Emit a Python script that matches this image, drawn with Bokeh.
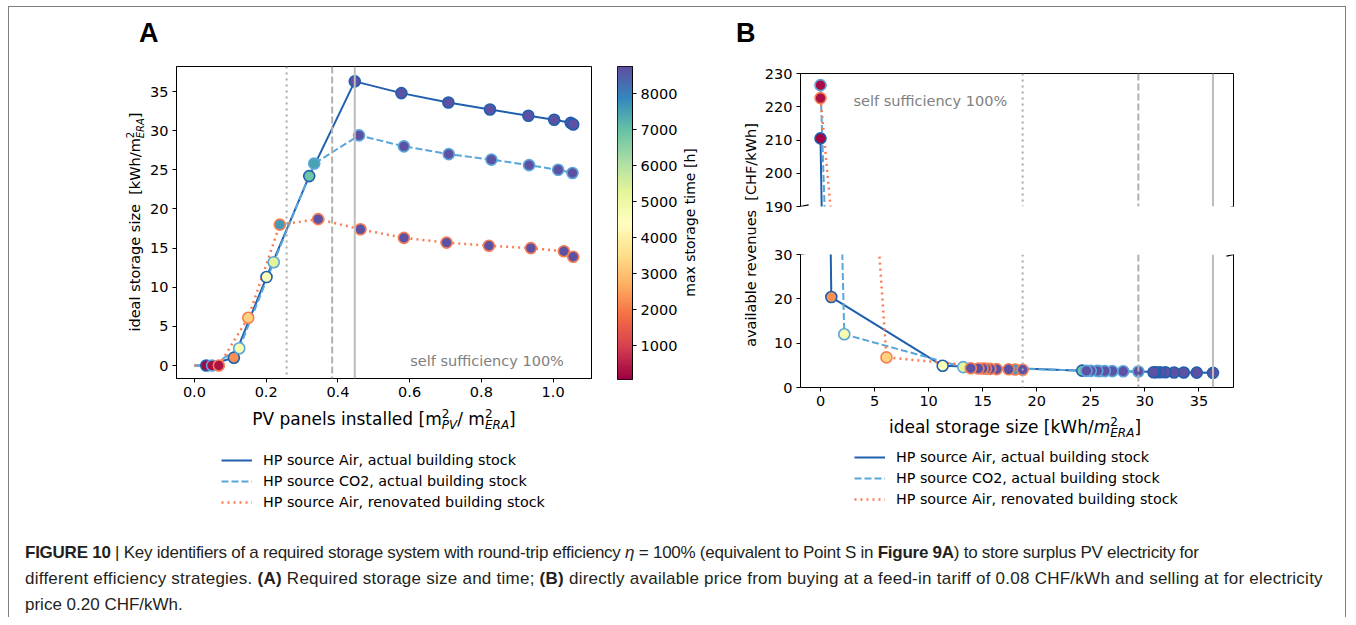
import numpy as np
from bokeh.plotting import figure
from bokeh.models import (Range1d, LinearAxis, FixedTicker, Span, Label, Legend, LegendItem,
                          LinearColorMapper, Div, Arrow, PrintfTickFormatter, ColumnDataSource)
from bokeh.layouts import row, column
from bokeh.transform import transform
from bokeh.embed import file_html
from bokeh.resources import INLINE
from bokeh.palettes import Spectral11

nan = float("nan")

# ---------------- data ----------------
series_names = ["HP source Air, actual building stock",
                "HP source CO2, actual building stock",
                "HP source Air, renovated building stock"]

# PV panels installed [m2_PV / m2_ERA]  (first entry: origin of the line, no marker)
pv_air_actual = [0.0, 0.033, 0.110, 0.201, 0.320, 0.447, 0.577, 0.708, 0.824, 0.931, 1.003, 1.049, 1.056]
pv_co2_actual = [0.0, 0.049, 0.125, 0.221, 0.334, 0.459, 0.584, 0.709, 0.828, 0.933, 1.014, 1.054]
pv_air_renov = [0.0, 0.068, 0.150, 0.238, 0.345, 0.463, 0.584, 0.703, 0.821, 0.938, 1.030, 1.056]

# ideal storage size [kWh/m2_ERA]
size_air_actual = [0.0, 0.0, 1.0, 11.3, 24.2, 36.3, 34.8, 33.6, 32.7, 31.9, 31.4, 31.0, 30.8]
size_co2_actual = [0.0, 0.0, 2.2, 13.2, 25.8, 29.4, 28.0, 27.0, 26.3, 25.6, 25.0, 24.6]
size_air_renov = [0.0, 0.0, 6.1, 18.0, 18.7, 17.4, 16.3, 15.7, 15.3, 15.0, 14.6, 13.9]

# max storage time [h]
time_air_actual = [nan, 150, 2300, 4600, 6900, 8700, 8700, 8700, 8700, 8700, 8700, 8700, 8700]
time_co2_actual = [nan, 250, 4700, 5300, 7500, 8700, 8700, 8700, 8700, 8700, 8700, 8700]
time_air_renov = [nan, 300, 3300, 7600, 8700, 8700, 8700, 8700, 8700, 8700, 8700, 8700]

# available revenues [CHF/kWh]
rev_air_actual = [nan, 210.5, 20.4, 4.9, 3.8, 3.3, 3.35, 3.4, 3.4, 3.45, 3.45, 3.45, 3.45]
rev_co2_actual = [nan, 226.5, 12.0, 4.6, 3.7, 3.6, 3.65, 3.7, 3.7, 3.75, 3.75, 3.75]
rev_air_renov = [nan, 222.6, 6.8, 4.05, 4.0, 4.1, 4.15, 4.2, 4.25, 4.3, 4.3, 4.35]

# self sufficiency 100 % markers (renovated air, CO2, air)
ss_pv = [0.257, 0.384, 0.447]
ss_size = [18.7, 29.4, 36.3]

time_min, time_max = 60, 8760

pv_ticks = [0.0, 0.2, 0.4, 0.6, 0.8, 1.0]
sizeA_ticks = [0, 5, 10, 15, 20, 25, 30, 35]
time_ticks = [1000, 2000, 3000, 4000, 5000, 6000, 7000, 8000]
rev_top_ticks = [190, 200, 210, 220, 230]
rev_bot_ticks = [0, 10, 20, 30]
sizeB_ticks = [0, 5, 10, 15, 20, 25, 30, 35]

# ---------------- styling ----------------
FONT = "DejaVu Sans"
TICK_FS = "14.5px"
C_AIR, C_CO2, C_REN = "#1f5fae", "#5aa5d9", "#f77e54"
line_styles = [(C_AIR, "solid", 2.0), (C_CO2, "7 3", 2.0), (C_REN, "2 4", 2.5)]
span_styles = [("2 4", "#a8a8a8"), ("7 3", "#b0b0b0"), ("solid", "#bdbdbd")]


def interp_palette(colors, n):
    rgb = np.array([[int(c[i:i + 2], 16) for i in (1, 3, 5)] for c in colors], float)
    pos = np.linspace(0, 1, len(colors))
    t = np.linspace(0, 1, n)
    ch = [np.interp(t, pos, rgb[:, k]) for k in range(3)]
    return ["#%02x%02x%02x" % (int(round(ch[0][i])), int(round(ch[1][i])), int(round(ch[2][i]))) for i in range(n)]


palette = interp_palette(list(reversed(Spectral11)), 256)
mapper = LinearColorMapper(palette=palette, low=time_min, high=time_max)


def style_axis(ax):
    ax.major_label_text_font = FONT
    ax.major_label_text_font_size = TICK_FS
    ax.major_label_text_color = "black"
    ax.major_tick_out = 4
    ax.major_tick_in = 0
    ax.minor_tick_out = 0
    ax.minor_tick_in = 0
    ax.axis_line_color = "black"
    ax.major_tick_line_color = "black"
    ax.major_label_standoff = 4


def base_fig(**kw):
    p = figure(toolbar_location=None, output_backend="svg", margin=0, **kw)
    p.grid.visible = False
    p.border_fill_color = "white"
    p.background_fill_color = "white"
    return p


def empty_axis():
    return LinearAxis(ticker=FixedTicker(ticks=[]), major_tick_out=0, minor_tick_out=0,
                      major_label_standoff=0, axis_line_color="black")


def box(width, height):
    return Div(text="", width=width, height=height, margin=0)


# ---------------- panel A ----------------
pA = base_fig(width=455, height=350, x_range=Range1d(-0.05, 1.107), y_range=Range1d(-1.66, 38.2),
              min_border_left=30, min_border_right=10, min_border_top=8, min_border_bottom=30)
pA.outline_line_color = "black"
for ax in pA.axis:
    style_axis(ax)
pA.xaxis.ticker = FixedTicker(ticks=pv_ticks)
pA.xaxis.formatter = PrintfTickFormatter(format="%.1f")
pA.yaxis.ticker = FixedTicker(ticks=sizeA_ticks)
for v, (dash, col) in zip(ss_pv, span_styles):
    pA.add_layout(Span(location=v, dimension="height", line_color=col, line_width=2, line_dash=dash))

seriesA = [(pv_air_actual, size_air_actual, time_air_actual),
           (pv_co2_actual, size_co2_actual, time_co2_actual),
           (pv_air_renov, size_air_renov, time_air_renov)]
for (x, y, t), (col, dash, lw) in zip(seriesA, line_styles):
    pA.line(x, y, line_color=col, line_width=lw, line_dash=dash)
for (x, y, t), (col, dash, lw) in zip(seriesA, line_styles):
    src = ColumnDataSource(dict(x=x[1:], y=y[1:], t=t[1:]))
    pA.scatter("x", "y", source=src, size=11, fill_color=transform("t", mapper),
               line_color=col, line_width=1.6)
pA.add_layout(Label(x=1.03, y=0.6, text="self sufficiency 100%", text_align="right",
                    text_baseline="middle", text_color="#808080", text_font=FONT, text_font_size="14.5px"))

# ---------------- colour bar ----------------
pC = base_fig(width=79, height=350, x_range=Range1d(0, 1), y_range=Range1d(time_min, time_max),
              x_axis_location=None, y_axis_location="right",
              min_border_left=16, min_border_right=47, min_border_top=8, min_border_bottom=29)
grad = np.linspace(time_min, time_max, 400).reshape(-1, 1)
pC.image(image=[grad], x=0, y=time_min, dw=1, dh=time_max - time_min, color_mapper=mapper)
pC.outline_line_color = "black"
for ax in pC.yaxis:
    style_axis(ax)
pC.yaxis.ticker = FixedTicker(ticks=time_ticks)

# ---------------- panel B ----------------
xB = Range1d(-1.85, 38.2)
seriesB = [(size_air_actual, rev_air_actual, time_air_actual),
           (size_co2_actual, rev_co2_actual, time_co2_actual),
           (size_air_renov, rev_air_renov, time_air_renov)]


def fill_B(p, brk_y, dy):
    for v, (dash, col) in zip(ss_size, span_styles):
        p.add_layout(Span(location=v, dimension="height", line_color=col, line_width=2, line_dash=dash))
    for (x, y, t), (col, dash, lw) in zip(seriesB, line_styles):
        p.line(x[1:], y[1:], line_color=col, line_width=lw, line_dash=dash)
    for (x, y, t), (col, dash, lw) in zip(seriesB, line_styles):
        src = ColumnDataSource(dict(x=x[1:], y=y[1:], t=t[1:]))
        p.scatter("x", "y", source=src, size=11, fill_color=transform("t", mapper),
                  line_color=col, line_width=1.6)
    for xe in (xB.start, xB.end):
        p.add_layout(Arrow(end=None, x_start=xe - 0.65, y_start=brk_y - dy, x_end=xe + 0.75, y_end=brk_y + dy,
                           line_color="black", line_width=1.2))


pBt = base_fig(width=483, height=172, x_range=xB, y_range=Range1d(190, 230), x_axis_location=None,
               min_border_left=40, min_border_right=10, min_border_top=15, min_border_bottom=24)
pBt.outline_line_color = None
for ax in pBt.axis:
    style_axis(ax)
pBt.yaxis.ticker = FixedTicker(ticks=rev_top_ticks)
pBt.add_layout(empty_axis(), "above")
pBt.add_layout(empty_axis(), "right")
for t in sizeB_ticks:   # top tick marks (no labels)
    pBt.add_layout(Arrow(end=None, x_start=t, y_start=230, x_end=t, y_end=230 + 1.2,
                         line_color="black", line_width=1))
fill_B(pBt, 190, 0.5)
pBt.add_layout(Label(x=3.05, y=221.6, text="self sufficiency 100%", text_align="left",
                     text_baseline="middle", text_color="#808080", text_font=FONT, text_font_size="14.5px"))

pBb = base_fig(width=483, height=187, x_range=xB, y_range=Range1d(0, 30),
               min_border_left=40, min_border_right=10, min_border_top=24, min_border_bottom=30)
pBb.outline_line_color = None
for ax in pBb.axis:
    style_axis(ax)
pBb.xaxis.ticker = FixedTicker(ticks=sizeB_ticks)
pBb.yaxis.ticker = FixedTicker(ticks=rev_bot_ticks)
pBb.add_layout(empty_axis(), "right")
fill_B(pBb, 30, 0.38)


# ---------------- legends ----------------
def legend_fig(width, height, left, top):
    p = figure(width=width, height=height, x_axis_location=None, y_axis_location=None,
               toolbar_location=None, output_backend="svg", margin=0,
               min_border_left=left, min_border_top=top, min_border_right=0, min_border_bottom=0)
    p.grid.visible = False
    p.outline_line_color = None
    p.border_fill_color = None
    p.background_fill_color = None
    items = []
    for name, (col, dash, lw) in zip(series_names, line_styles):
        r = p.line([0], [0], line_color=col, line_width=lw, line_dash=dash)
        items.append(LegendItem(label=name, renderers=[r]))
    leg = Legend(items=items, location="top_left", margin=0, padding=0, spacing=3,
                 glyph_width=31, glyph_height=18, label_height=18, label_standoff=11,
                 label_text_font=FONT, label_text_font_size="14.3px", label_text_color="black",
                 border_line_color=None, background_fill_alpha=0)
    p.add_layout(leg)
    return p


legA = legend_fig(592, 97, 212, 17)
legB = legend_fig(532, 92, 143, 9)


# ---------------- html labels ----------------
def mss(base, sup, sub, fs, italic_base=False):
    small = round(fs * 0.7)
    b = f"<i>{base}</i>" if italic_base else base
    w = 0.636 * small
    return (f'{b}<span style="font-size:{small}px; position:relative; top:-{fs * 0.42:.1f}px">{sup}</span>'
            f'<span style="font-size:{small}px; font-style:italic; position:relative; top:{fs * 0.25:.1f}px; '
            f'margin-left:-{w:.1f}px">{sub}</span>')


def rot_div(html, width, height, box_left, box_len, fs, lh):
    inner = (f'<div style="width:{box_len}px; height:{lh}px; transform-origin:0 0; '
             f'transform:translate({box_left}px,{box_len}px) rotate(-90deg); text-align:center; '
             f'white-space:nowrap; font-family:\'DejaVu Sans\'; font-size:{fs}px; line-height:{lh}px; '
             f'color:black;">{html}</div>')
    return Div(text=inner, width=width, height=height, margin=0)


def hlabel_div(html, width, height, center, top, fs):
    inner = (f'<div style="margin-left:{center}px; padding-top:{top}px; white-space:nowrap; '
             f'font-family:\'DejaVu Sans\'; font-size:{fs}px; line-height:{round(fs) + 3}px; color:black;">'
             f'<span style="display:inline-block; transform:translateX(-50%);">{html}</span></div>')
    return Div(text=inner, width=width, height=height, margin=0)


def letter_div(ch, width, left):
    return Div(text=(f'<div style="padding:13px 0 0 {left}px; font-family:\'Liberation Sans\', Arial, sans-serif; '
                     f'font-weight:bold; font-size:27px; line-height:27px; color:black;">{ch}</div>'),
               width=width, height=51, margin=0)


ylabA = rot_div("ideal storage size&nbsp;&nbsp;[kWh/" + mss("m", "2", "ERA", 14.5) + "]",
                137, 350, 118, 328, 14.5, 17)
xlabA = hlabel_div("PV panels installed [" + mss("m", "2", "PV", 17) + "/ " + mss("m", "2", "ERA", 17) + "]",
                   592, 26, 375, 1, 17)
ylabC = rot_div("max storage time [h]", 31, 350, 2, 329, 14, 17)
ylabB = rot_div("available revenues&nbsp;&nbsp;[CHF/kWh]", 49, 359, 32, 354, 14.5, 17)
xlabB = hlabel_div("ideal storage size [kWh/" + mss("m", "2", "ERA", 17, italic_base=True) + "]",
                   532, 22, 304, 0, 17)

caption_html = (
    '<div style="padding:9px 0 0 16px; font-family:\'Liberation Sans Narrow\', \'Arial Narrow\', sans-serif; '
    'font-size:17px; line-height:26px; color:#231f20; white-space:nowrap;">'
    '<div style="letter-spacing:-0.25px"><b>FIGURE 10</b> | Key identifiers of a required storage system with '
    'round-trip efficiency <i>η</i> = 100% (equivalent to Point S in <b>Figure 9A</b>) to store surplus PV '
    'electricity for</div>'
    '<div style="letter-spacing:0.25px">different efficiency strategies. <b>(A)</b> Required storage size and time; '
    '<b>(B)</b> directly available price from buying at a feed-in tariff of 0.08 CHF/kWh and selling at for '
    'electricity</div>'
    '<div>price 0.20 CHF/kWh.</div></div>')
caption = Div(text=caption_html, width=1330, height=87, margin=0)

# ---------------- layout ----------------
colA = column(letter_div("A", 592, 130), row(ylabA, pA), xlabA, legA)
colC = column(box(110, 51), row(pC, ylabC))
colB = column(letter_div("B", 532, 25), row(ylabB, column(pBt, pBb)), xlabB, legB)
top = row(colA, colC, colB)
layout = column(top, caption, width=1338, height=611, margin=(6, 0, 0, 8),
                styles={"border-top": "1px solid #7f7f7f", "border-left": "1px solid #7f7f7f",
                        "border-right": "1px solid #7f7f7f"})

open("out.html", "w").write(file_html(layout, INLINE))
